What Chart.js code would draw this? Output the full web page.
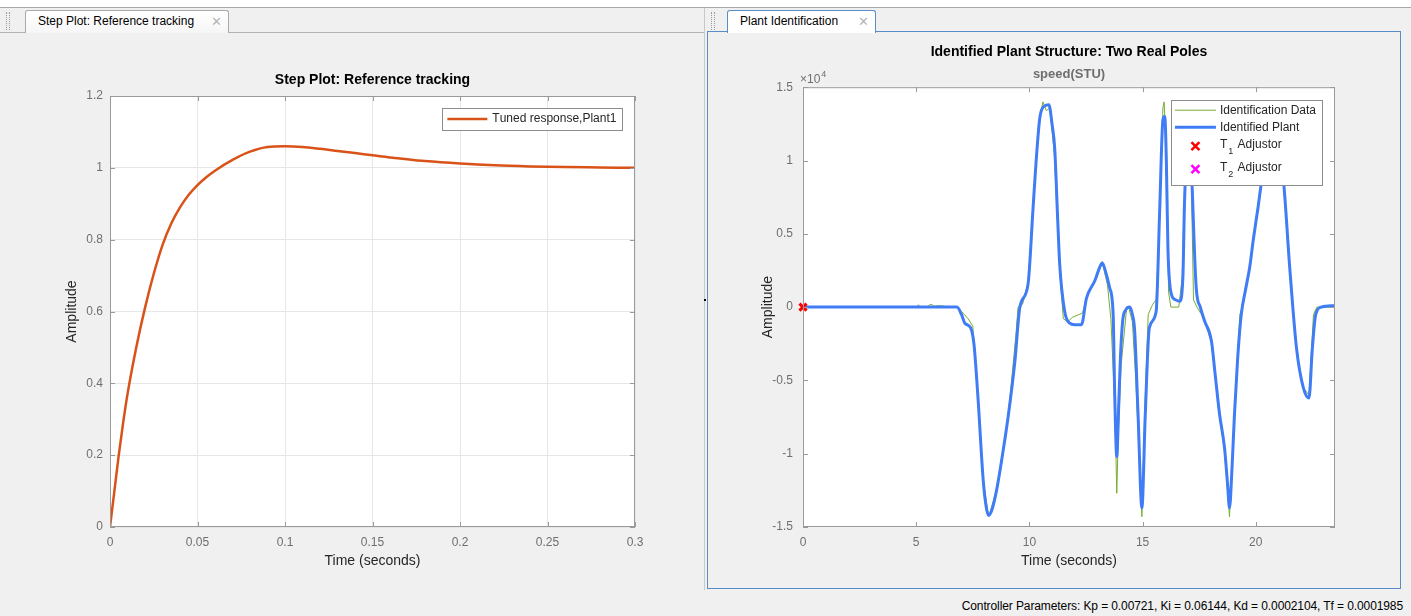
<!DOCTYPE html>
<html>
<head>
<meta charset="utf-8">
<script src="https://cdn.jsdelivr.net/npm/chart.js@4.4.1/dist/chart.umd.min.js"></script>
<style>
  html, body { margin: 0; padding: 0; }
  body {
    width: 1411px; height: 616px; position: relative; overflow: hidden;
    background: #f0f0f0; font-family: "Liberation Sans", Arial, sans-serif;
  }
  .top { position: absolute; left: 0; top: 0; width: 1411px; height: 7px; background: #fff; border-bottom: 1px solid #a7a7a7; }
  .rule { position: absolute; left: 0; top: 32px; width: 704px; height: 1px; background: #b4b4b4; }
  .sep { position: absolute; left: 704px; top: 8px; width: 1px; height: 582px; background: #c8c8c8; }
  .grip { position: absolute; top: 12px; width: 2px; height: 18px; border-left: 1px dotted #9a9a9a; border-right: 1px dotted #9a9a9a; }
  .tab {
    position: absolute; top: 10px; height: 23px; box-sizing: border-box;
    border: 1px solid #a9a9a9; border-bottom: none; border-radius: 3px 3px 0 0;
    background: linear-gradient(#ffffff, #f6f6f6); font-size: 12px; line-height: 21px;
    padding-left: 12px; color: #000; z-index: 2; white-space: nowrap;
  }
  .tab .x { color: #b5b5b5; position: absolute; right: 6px; top: 0; font-size: 13px; }
  .panel { position: absolute; left: 707px; top: 31px; width: 694px; height: 558px; box-sizing: border-box; border: 1px solid #5a8dc8; }
  #left { position: absolute; left: 0; top: 34px; }
  #right { position: absolute; left: 708px; top: 32px; }
  .status { position: absolute; right: 8px; top: 599px; font-size: 12px; letter-spacing: -0.1px; color: #000; }
  .dot { position: absolute; left: 704px; top: 299px; width: 2px; height: 2px; background: #000; }
</style>
</head>
<body>
<div class="top"></div>
<div class="rule"></div>
<div class="sep"></div>
<div class="grip" style="left:6px"></div>
<div class="grip" style="left:711px"></div>
<div class="tab" style="left:25px; width:204px">Step Plot: Reference tracking<span class="x">✕</span></div>
<div class="panel"></div>
<div class="tab" style="left:727px; width:149px; border-color:#5a8dc8; background:#fff">Plant Identification<span class="x">✕</span></div>
<canvas id="left" width="703" height="552"></canvas>
<canvas id="right" width="692" height="557"></canvas>
<div class="dot"></div>
<div class="status">Controller Parameters: Kp = 0.00721, Ki = 0.06144, Kd = 0.0002104, Tf = 0.0001985</div>

<script>
// Step response (left)
const stepTime = [0, 0.0025, 0.005, 0.0075, 0.01, 0.015, 0.02, 0.025, 0.03, 0.035, 0.04, 0.045, 0.05, 0.055,
    0.06, 0.07, 0.08, 0.09, 0.1, 0.11, 0.12, 0.13, 0.14, 0.15, 0.16, 0.18, 0.2, 0.22, 0.24, 0.26, 0.28, 0.3];
const stepAmp = [0, 0.1, 0.2, 0.29, 0.37, 0.5, 0.61, 0.705, 0.785, 0.845, 0.89, 0.925, 0.952, 0.974,
    0.992, 1.022, 1.045, 1.058, 1.06, 1.058, 1.053, 1.047, 1.041, 1.035, 1.029, 1.019, 1.012, 1.007, 1.004, 1.002, 1.001, 1.0];
const stepXTicks = [0, 0.05, 0.1, 0.15, 0.2, 0.25, 0.3];
const stepYTicks = [0, 0.2, 0.4, 0.6, 0.8, 1, 1.2];

// Plant identification (right), speed in STU
const idTime = [0, 5.0, 5.1, 5.2, 5.5, 5.65, 5.8, 6.0, 6.3, 6.8, 7.0, 7.3, 7.5, 7.6, 7.73, 7.96, 8.2, 8.55, 9.06,
    9.4, 9.5, 9.7, 9.94, 10.16, 10.46, 10.6, 10.75, 10.9, 11.1, 11.34, 11.5, 11.7, 11.9, 12.2, 12.35, 12.5, 12.7,
    12.85, 13.0, 13.22, 13.45, 13.6, 13.78, 13.86, 13.92, 14.05, 14.3, 14.4, 14.55, 14.7, 14.97, 15.1, 15.25, 15.45,
    15.6, 15.75, 15.9, 15.95, 16.05, 16.15, 16.25, 16.6, 16.75, 16.9, 17.0, 17.15, 17.25, 17.4, 17.6, 17.8, 18.1,
    18.4, 18.62, 18.84, 19.06, 19.3, 19.4, 19.6, 19.73, 20.1, 20.3, 20.75, 21.2, 21.5, 21.8, 22.1, 22.35, 22.55, 22.7, 23.5];
const idSpeed = [0, 0, 150, 0, 50, 200, 50, 100, 50, 0, -300, -800, -1300, -3500, -6200, -11800, -14300, -12500, -7500,
    -2000, 0, 200, 1700, 6700, 13000, 14000, 13400, 13600, 10500, 2500, -800, -1000, -700, -500, -400, 500, 1200,
    1600, 2100, 3100, 1500, -800, -7000, -12700, -9000, -4000, 0, -100, -1000, -5000, -14300, -7000, -500, 200,
    500, 6000, 13600, 14000, 11000, 1000, 0, 0, 2000, 11000, 14000, 9000, 500, 0, -500, -1200, -2700,
    -7500, -9800, -14300, -7000, -500, 0, 1500, 2700, 6800, 9200, 11200, 8800, 2500, -3000, -5500, -6000, -500, 0, 0];

const plantTime = [0, 6.8, 7.0, 7.15, 7.4, 7.55, 7.73, 7.96, 8.1, 8.2, 8.35, 8.55, 8.8, 9.06, 9.36, 9.58, 9.94,
    10.16, 10.3, 10.46, 10.65, 10.86, 11.0, 11.12, 11.25, 11.34, 11.56, 11.78, 12.0, 12.3, 12.52, 12.89, 13.1, 13.22,
    13.35, 13.55, 13.7, 13.77, 13.86, 13.94, 14.02, 14.12, 14.25, 14.43, 14.55, 14.65, 14.8, 14.97, 15.12, 15.3, 15.6,
    15.75, 15.9, 15.98, 16.05, 16.12, 16.27, 16.45, 16.64, 16.78, 16.85, 16.93, 17.03, 17.15, 17.37, 17.55, 17.74,
    18.04, 18.2, 18.4, 18.62, 18.75, 18.84, 18.95, 19.06, 19.2, 19.36, 19.55, 19.73, 19.9, 20.1, 20.3, 20.55, 20.75,
    20.95, 21.2, 21.5, 21.8, 22.1, 22.35, 22.5, 22.65, 22.9, 23.5];
const plantSpeed = [0, 0, -500, -1100, -1400, -2500, -6200, -11800, -13700, -14200, -13800, -12500, -10200, -7500,
    -3700, 0, 1550, 6700, 10000, 12900, 13700, 13800, 12500, 10800, 6000, 2900, -300, -1100, -1200, -1200, 600,
    1800, 2700, 3000, 2500, 1300, -500, -6000, -10200, -7000, -3500, -950, -200, 0, -500, -1600, -7300, -13700,
    -7300, -1400, -300, 6300, 12800, 13000, 10000, 4000, 900, 500, 400, 2000, 7000, 10800, 13000, 9700, 1300, 0,
    -950, -2300, -4500, -7300, -9600, -12000, -13700, -11000, -7300, -3500, -500, 1200, 2700, 4700, 6800, 9000,
    10600, 11000, 10500, 9000, 2700, -2800, -5500, -6200, -2800, -500, 0, 100];
const plantXTicks = [0, 5, 10, 15, 20];
const plantYTicks = [-15000, -10000, -5000, 0, 5000, 10000, 15000];

Chart.defaults.font.family = '"Liberation Sans", Arial, sans-serif';
Chart.defaults.animation = false;

const tickGray = "#6f6f6f";
const boxGray = "#9a9a9a";
const fixTicks = (vals) => (scale) => { scale.ticks = vals.map((v) => ({ value: v })); };
const toPts = (xs, ys) => xs.map((x, i) => ({ x, y: ys[i] }));

// axes box with inward ticks on all sides, MATLAB style
const frame = {
    id: "frame",
    beforeDraw(chart) {
        const { ctx, chartArea: a } = chart;
        ctx.save();
        ctx.fillStyle = "#fff";
        ctx.fillRect(a.left, a.top, a.width, a.height);
        ctx.restore();
    },
    afterDatasetsDraw(chart, args, opts) {
        const { ctx, chartArea: a, scales: { x, y } } = chart;
        const len = 5;
        ctx.save();
        ctx.strokeStyle = boxGray;
        ctx.lineWidth = 1;
        ctx.strokeRect(a.left + 0.5, a.top + 0.5, a.width - 1, a.height - 1);
        ctx.beginPath();
        x.ticks.forEach((t) => {
            const px = Math.round(x.getPixelForValue(t.value)) + 0.5;
            ctx.moveTo(px, a.bottom); ctx.lineTo(px, a.bottom - len);
            ctx.moveTo(px, a.top); ctx.lineTo(px, a.top + len);
        });
        y.ticks.forEach((t) => {
            const py = Math.round(y.getPixelForValue(t.value)) + 0.5;
            ctx.moveTo(a.left, py); ctx.lineTo(a.left + len, py);
            ctx.moveTo(a.right, py); ctx.lineTo(a.right - len, py);
        });
        ctx.stroke();
        if (opts.exponent) {
            ctx.fillStyle = tickGray;
            ctx.textBaseline = "alphabetic";
            ctx.font = '12px "Liberation Sans", Arial, sans-serif';
            const base = "\u00d710";
            ctx.fillText(base, a.left - 3, a.top - 4);
            const w = ctx.measureText(base).width;
            ctx.font = '9px "Liberation Sans", Arial, sans-serif';
            ctx.fillText(opts.exponent, a.left - 3 + w + 1, a.top - 10);
        }
        ctx.restore();
    },
};

// legend box drawn inside the axes (top right)
const subs = "\u2080\u2081\u2082\u2083\u2084\u2085\u2086\u2087\u2088\u2089";
const boxLegend = {
    id: "boxLegend",
    afterDraw(chart, args, o) {
        const { ctx, chartArea: a } = chart;
        const sets = chart.data.datasets;
        const font = '12px "Liberation Sans", Arial, sans-serif';
        const subFont = '9px "Liberation Sans", Arial, sans-serif';
        ctx.save();
        ctx.font = font;
        const textW = Math.max(...sets.map((d) => ctx.measureText(d.label).width));
        const w = o.textX + textW + o.padR;
        const left = a.right - o.right - w;
        const top = a.top + o.top;
        ctx.fillStyle = "#fff";
        ctx.fillRect(left, top, w, o.height);
        ctx.strokeStyle = "#8c8c8c";
        ctx.lineWidth = 1;
        ctx.strokeRect(Math.round(left) + 0.5, Math.round(top) + 0.5, Math.round(w), o.height);
        sets.forEach((d, i) => {
            const cy = top + o.rows[i];
            if (d.showLine === false) {
                const cx = left + (o.lineX0 + o.lineX1) / 2;
                const r = 4;
                ctx.strokeStyle = d.borderColor;
                ctx.lineWidth = 2.5;
                ctx.beginPath();
                ctx.moveTo(cx - r, cy - r); ctx.lineTo(cx + r, cy + r);
                ctx.moveTo(cx + r, cy - r); ctx.lineTo(cx - r, cy + r);
                ctx.stroke();
            } else {
                ctx.strokeStyle = d.borderColor;
                ctx.lineWidth = d.borderWidth;
                ctx.beginPath();
                ctx.moveTo(left + o.lineX0, cy); ctx.lineTo(left + o.lineX1, cy);
                ctx.stroke();
            }
            // label, unicode subscript digits drawn small and lowered
            ctx.fillStyle = "#262626";
            ctx.textBaseline = "middle";
            const hasSub = [...d.label].some((ch) => subs.includes(ch));
            let tx = left + o.textX;
            for (const ch of d.label) {
                const k = subs.indexOf(ch);
                if (k >= 0) {
                    ctx.font = subFont;
                    ctx.fillText(String(k), tx + 1, cy + 5);
                    tx += ctx.measureText(String(k)).width + 2;
                    ctx.font = font;
                } else {
                    ctx.fillText(ch, tx, hasSub ? cy - 2 : cy);
                    tx += ctx.measureText(ch).width;
                }
            }
        });
        ctx.restore();
    },
};

const axisTitle = (text, pad) => ({
    display: true, text, color: "#262626", font: { size: 14 }, padding: pad,
});

new Chart(document.getElementById("left"), {
    type: "line",
    data: {
        datasets: [{
            label: "Tuned response,Plant1",
            data: toPts(stepTime, stepAmp),
            borderColor: "#d95319",
            borderWidth: 2.5,
            pointRadius: 0,
            cubicInterpolationMode: "monotone",
        }],
    },
    options: {
        responsive: false,
        layout: { padding: { left: 0, right: 68, top: 0, bottom: 0 } },
        plugins: {
            legend: { display: false },
            tooltip: { enabled: false },
            title: {
                display: true, fullSize: false,
                text: "Step Plot: Reference tracking",
                color: "#000", font: { size: 14, weight: "bold" },
                padding: { top: 37.6, bottom: 7.6 },
            },
            frame: {},
            boxLegend: { top: 12, right: 13, height: 22, rows: [11], lineX0: 5, lineX1: 45, textX: 50, padR: 6 },
        },
        scales: {
            x: {
                type: "linear", min: 0, max: 0.3,
                afterBuildTicks: fixTicks(stepXTicks),
                afterFit: (s) => { s.height = 59; },
                grid: { color: "#e6e6e6", drawTicks: false },
                border: { display: false },
                ticks: { color: tickGray, font: { size: 12 }, padding: 8, maxRotation: 0, autoSkip: false,
                    callback: (v) => String(Number(v.toFixed(3))) },
                title: axisTitle("Time (seconds)", { top: 0, bottom: 16.6 }),
            },
            y: {
                type: "linear", min: 0, max: 1.2,
                afterBuildTicks: fixTicks(stepYTicks),
                afterFit: (s) => { s.width = 110; },
                grid: { color: "#e6e6e6", drawTicks: false },
                border: { display: false },
                ticks: { color: tickGray, font: { size: 12 }, padding: 7, autoSkip: false,
                    callback: (v) => String(Number(v.toFixed(3))) },
                title: axisTitle("Amplitude", { top: 63.6, bottom: 0 }),
            },
        },
    },
    plugins: [frame, boxLegend],
});

new Chart(document.getElementById("right"), {
    type: "line",
    data: {
        datasets: [
            {
                label: "Identification Data",
                data: toPts(idTime, idSpeed),
                borderColor: "#77ac30",
                borderWidth: 1,
                pointRadius: 0,
                tension: 0,
                order: 2,
            },
            {
                label: "Identified Plant",
                data: toPts(plantTime, plantSpeed),
                borderColor: "#3f7cf5",
                borderWidth: 3,
                pointRadius: 0,
                cubicInterpolationMode: "monotone",
                order: 1,
            },
            {
                label: "T\u2081 Adjustor",
                data: [{ x: 0, y: 0 }],
                showLine: false,
                pointStyle: "crossRot",
                pointRadius: 5,
                pointBorderWidth: 3,
                borderColor: "#ff0000",
                clip: false,
                order: 0,
            },
            {
                label: "T\u2082 Adjustor",
                data: [],
                showLine: false,
                pointStyle: "crossRot",
                pointRadius: 5,
                pointBorderWidth: 3,
                borderColor: "#ff00ff",
                order: 0,
            },
        ],
    },
    options: {
        responsive: false,
        layout: { padding: { left: 0, right: 65, top: 0, bottom: 0 } },
        plugins: {
            legend: { display: false },
            tooltip: { enabled: false },
            title: {
                display: true, fullSize: false,
                text: "Identified Plant Structure: Two Real Poles",
                color: "#000", font: { size: 14, weight: "bold" },
                padding: { top: 12, bottom: 2 },
            },
            subtitle: {
                display: true, fullSize: false,
                text: "speed(STU)",
                color: "#6e6e6e", font: { size: 13, weight: "bold" },
                padding: { top: 4, bottom: 4.8 },
            },
            frame: { exponent: "4" },
            boxLegend: { top: 13, right: 13, height: 85, rows: [10, 27, 46, 69], lineX0: 4, lineX1: 45, textX: 49, padR: 6 },
        },
        scales: {
            x: {
                type: "linear", min: 0, max: 23.5,
                afterBuildTicks: fixTicks(plantXTicks),
                afterFit: (s) => { s.height = 62; },
                grid: { display: false, drawTicks: false },
                border: { display: false },
                ticks: { color: tickGray, font: { size: 12 }, padding: 8, maxRotation: 0, autoSkip: false },
                title: axisTitle("Time (seconds)", { top: 0, bottom: 19.6 }),
            },
            y: {
                type: "linear", min: -15000, max: 15000,
                afterBuildTicks: fixTicks(plantYTicks),
                afterFit: (s) => { s.width = 95; },
                grid: { display: false, drawTicks: false },
                border: { display: false },
                ticks: { color: tickGray, font: { size: 12 }, padding: 10, autoSkip: false,
                    callback: (v) => String(v / 10000) },
                title: axisTitle("Amplitude", { top: 51.6, bottom: 0 }),
            },
        },
    },
    plugins: [frame, boxLegend],
});
</script>
</body>
</html>
